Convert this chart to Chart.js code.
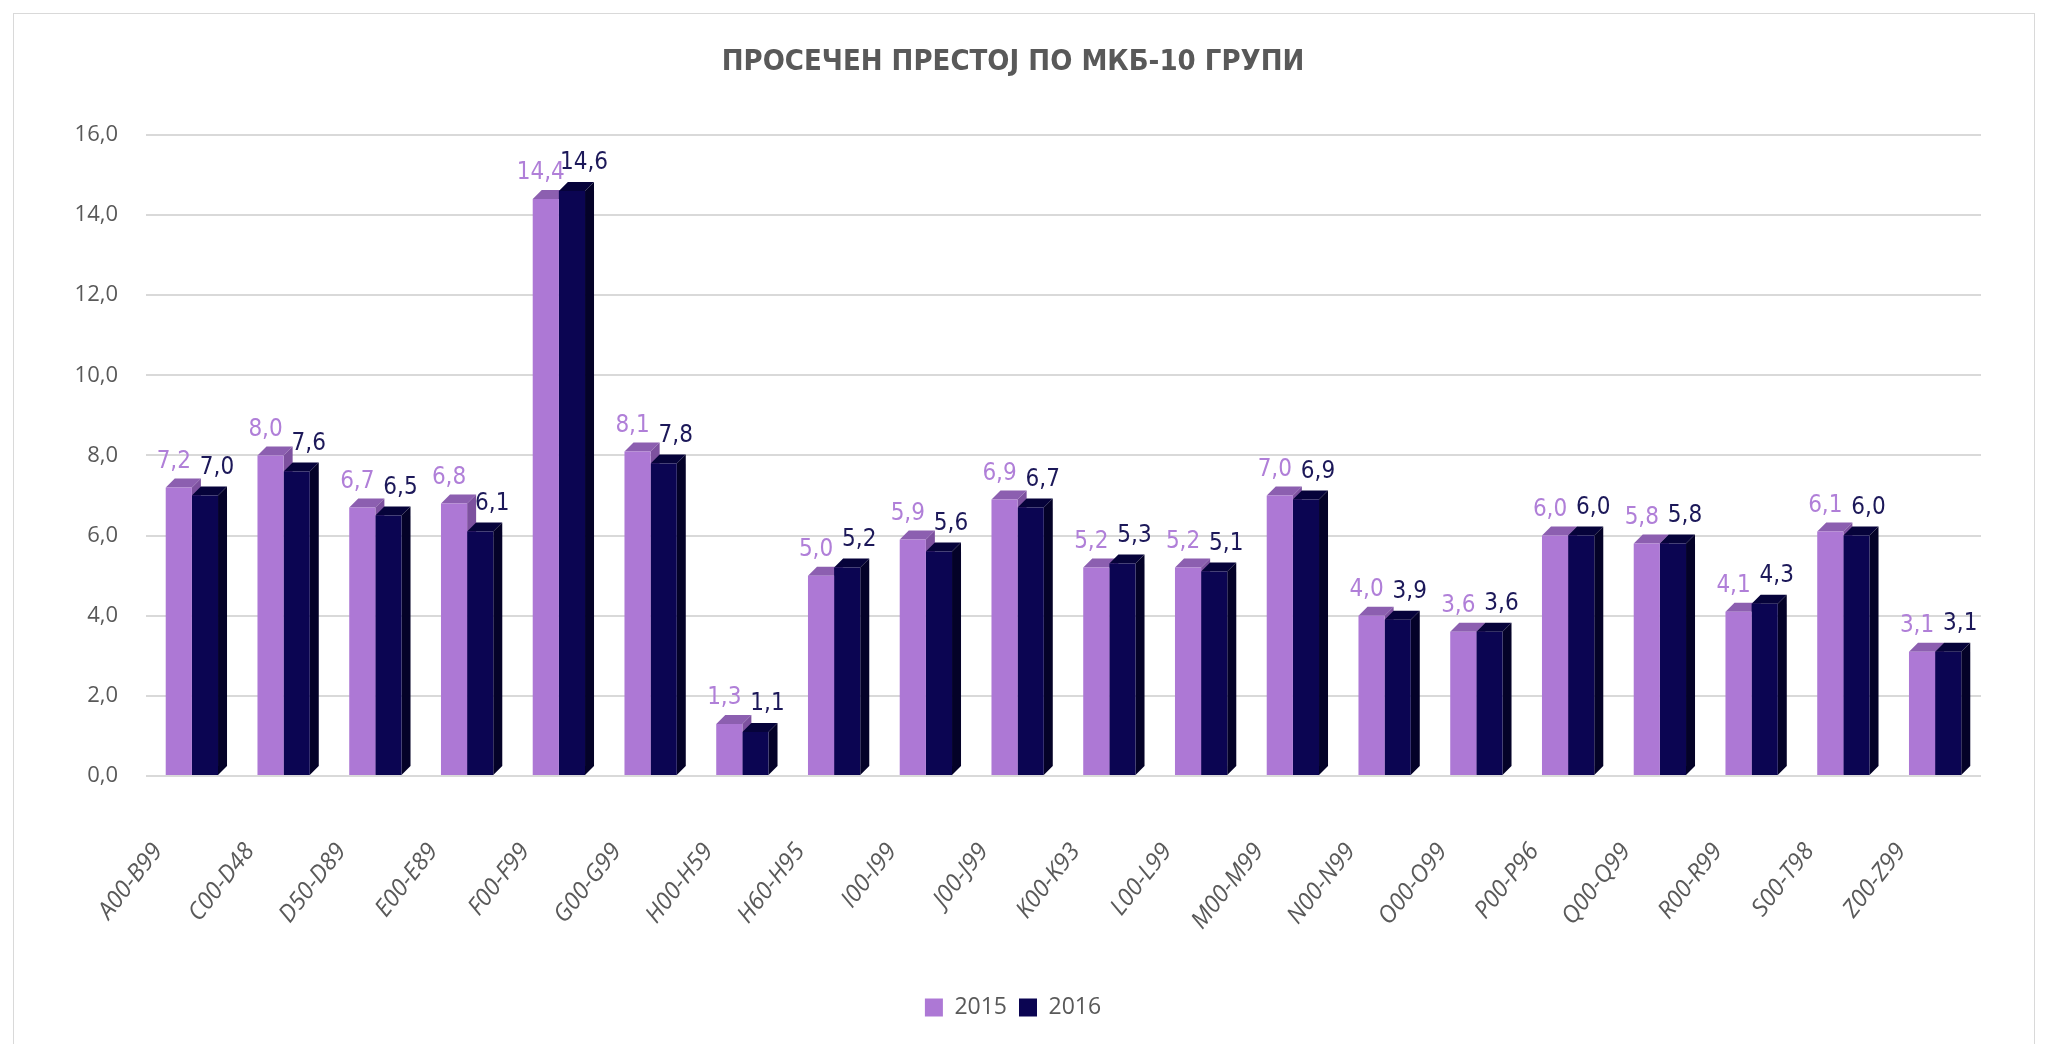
<!DOCTYPE html>
<html>
<head>
<meta charset="utf-8">
<script src="https://cdn.jsdelivr.net/npm/chart.js@4"></script>
<style>
  html, body { margin: 0; padding: 0; background: #fff; }
  #wrap { position: absolute; left: 0; top: 0; width: 2047px; height: 1044px; }
  #frame { position: absolute; left: 13px; top: 13px; width: 2020px; height: 1040px; border: 1px solid #d9d9d9; pointer-events: none; }
</style>
</head>
<body>
<div id="wrap"><canvas id="mkbChart"></canvas></div>
<div id="frame"></div>
<script>
const categories = ['A00-B99', 'C00-D48', 'D50-D89', 'E00-E89', 'F00-F99', 'G00-G99', 'H00-H59', 'H60-H95', 'I00-I99', 'J00-J99',
    'K00-K93', 'L00-L99', 'M00-M99', 'N00-N99', 'O00-O99', 'P00-P96', 'Q00-Q99', 'R00-R99', 'S00-T98', 'Z00-Z99'];
const values2015 = [7.2, 8.0, 6.7, 6.8, 14.4, 8.1, 1.3, 5.0, 5.9, 6.9, 5.2, 5.2, 7.0, 4.0, 3.6, 6.0, 5.8, 4.1, 6.1, 3.1];
const values2016 = [7.0, 7.6, 6.5, 6.1, 14.6, 7.8, 1.1, 5.2, 5.6, 6.7, 5.3, 5.1, 6.9, 3.9, 3.6, 6.0, 5.8, 4.3, 6.0, 3.1];
const seriesNames = ['2015', '2016'];

const fronts = ['#ad78d5', '#0b0552'];
const tops = ['#8c5fb0', '#06033a'];
const sides = ['#7d519f', '#040228'];
const labelColors = ['#b07fd8', '#1c1859'];

// fake 3d faces drawn behind the bars, using the bar elements
const depth3d = {
    id: 'depth3d',
    beforeDatasetsDraw(chart) {
        const ctx = chart.ctx;
        const d = 9;
        chart.data.datasets.forEach((ds, i) => {
            chart.getDatasetMeta(i).data.forEach(bar => {
                const l = bar.x - bar.width / 2, r = bar.x + bar.width / 2;
                ctx.fillStyle = tops[i];
                ctx.beginPath();
                ctx.moveTo(l, bar.y); ctx.lineTo(l + d, bar.y - d);
                ctx.lineTo(r + d, bar.y - d); ctx.lineTo(r, bar.y);
                ctx.closePath(); ctx.fill();
                ctx.fillStyle = sides[i];
                ctx.beginPath();
                ctx.moveTo(r, bar.y); ctx.lineTo(r + d, bar.y - d);
                ctx.lineTo(r + d, bar.base - d); ctx.lineTo(r, bar.base);
                ctx.closePath(); ctx.fill();
            });
        });
    }
};

const valueLabels = {
    id: 'valueLabels',
    afterDatasetsDraw(chart) {
        const ctx = chart.ctx;
        ctx.save();
        ctx.font = '24px "DejaVu Sans Condensed", "Liberation Sans Narrow", sans-serif';
        ctx.textAlign = 'center';
        ctx.textBaseline = 'bottom';
        chart.data.datasets.forEach((ds, i) => {
            chart.getDatasetMeta(i).data.forEach((bar, j) => {
                ctx.fillStyle = labelColors[i];
                const txt = ds.data[j].toFixed(1).replace('.', ',');
                const dx = i === 0 ? -5 : 12;
                const dy = i === 0 ? 14 : 16;
                ctx.fillText(txt, bar.x + dx, bar.y - dy);
            });
        });
        ctx.restore();
    }
};

const barData = {
    labels: categories,
    datasets: [{
        label: seriesNames[0],
        data: values2015,
        backgroundColor: fronts[0]
    }, {
        label: seriesNames[1],
        data: values2016,
        backgroundColor: fronts[1]
    }]
};

const barConfig = {
    type: 'bar',
    data: barData,
    plugins: [depth3d, valueLabels],
    options: {
        responsive: true,
        maintainAspectRatio: false,
        animation: false,
        layout: { padding: { top: 20, right: 66, bottom: 15, left: 45 } },
        datasets: { bar: { categoryPercentage: 0.57, barPercentage: 1.0 } },
        plugins: {
            legend: {
                position: 'bottom',
                labels: {
                    boxWidth: 18, boxHeight: 18, padding: 12,
                    color: '#595959',
                    font: { family: 'Open Sans', size: 23 }
                }
            },
            title: {
                display: true,
                text: 'ПРОСЕЧЕН ПРЕСТОЈ ПО МКБ-10 ГРУПИ',
                color: '#595959',
                font: { family: '"DejaVu Sans Condensed", sans-serif', size: 29, weight: 'bold' },
                padding: { top: 25, bottom: 55 }
            },
            tooltip: { enabled: false }
        },
        scales: {
            x: {
                grid: { display: false },
                border: { display: false },
                afterFit: function(scale) { scale.height = 208; },
                ticks: {
                    color: '#595959',
                    font: { family: 'Open Sans', size: 24, style: 'italic' },
                    minRotation: 52, maxRotation: 52,
                    padding: 54,
                    labelOffset: -34
                }
            },
            y: {
                min: 0, max: 16,
                afterFit: function(scale) { scale.width = 101; },
                grid: { color: '#d9d9d9', lineWidth: 2, drawTicks: false },
                border: { display: false },
                ticks: {
                    stepSize: 2,
                    padding: 28,
                    color: '#595959',
                    font: { family: 'Open Sans', size: 22 },
                    callback: function(value) {
                        return value.toFixed(1).replace('.', ',');
                    }
                }
            }
        }
    }
};

new Chart(document.getElementById('mkbChart').getContext('2d'), barConfig);
</script>
</body>
</html>
